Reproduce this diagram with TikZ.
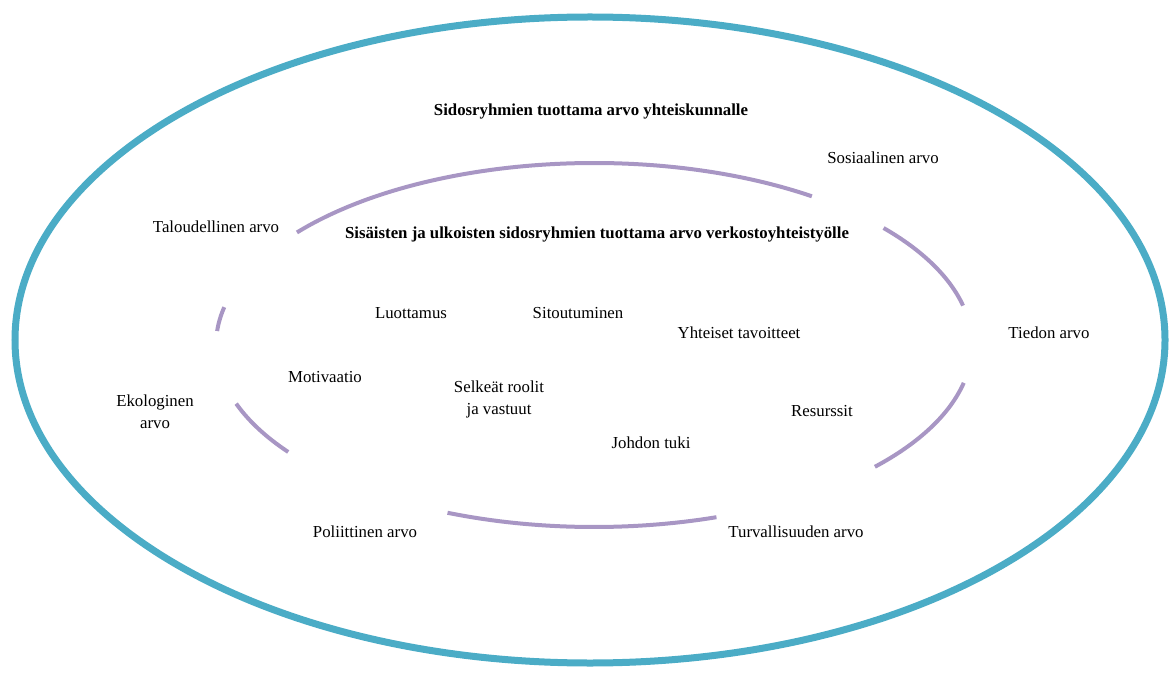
\documentclass[tikz,border=0pt]{standalone}
\usepackage{fontspec}
\setmainfont{Liberation Serif}
\definecolor{outerblue}{HTML}{4BACC6}
\definecolor{innerpurple}{HTML}{A896C4}
\begin{document}
\begin{tikzpicture}[x=1pt,y=1pt,
  lbl/.style={font=\fontsize{16.8}{22}\selectfont, inner sep=0pt, align=center, text=black},
  ttl/.style={lbl, font=\fontsize{16.8}{22}\selectfont\bfseries},
  outerring/.style={draw=outerblue, line width=7pt},
  innerring/.style={draw=innerpurple, line width=4pt}]
\useasboundingbox (0,0) rectangle (1169,673);
% outer ellipse
\coordinate (oc) at (590,333);
\draw[outerring] (oc) ellipse [x radius=575, y radius=323];
% inner broken ellipse
\coordinate (ic) at (594,328);
\foreach \a/\b in {141.8/54.8, 40/12.5, -12/-42, -71.1/-112.8, -144/-161.2, 168/175.6}{
  \draw[innerring] (ic) ++(\a:378 and 182) arc[start angle=\a, end angle=\b, x radius=378, y radius=182];
}
% titles
\node[ttl] (t1) at (591,562) {Sidosryhmien tuottama arvo yhteiskunnalle};
\node[ttl] (t2) at (597,439) {Sisäisten ja ulkoisten sidosryhmien tuottama arvo verkostoyhteistyölle};
% outer labels
\node[lbl] (sos) at (883,515) {Sosiaalinen arvo};
\node[lbl] (tal) at (216,446) {Taloudellinen arvo};
\node[lbl] (tie) at (1049,340) {Tiedon arvo};
\node[lbl] (eko) at (155,261) {Ekologinen\\arvo};
\node[lbl] (pol) at (365,141) {Poliittinen arvo};
\node[lbl] (tur) at (796,141) {Turvallisuuden arvo};
% inner labels
\node[lbl] (luo) at (411,360) {Luottamus};
\node[lbl] (sit) at (578,360) {Sitoutuminen};
\node[lbl] (yht) at (739,340) {Yhteiset tavoitteet};
\node[lbl] (mot) at (325,296) {Motivaatio};
\node[lbl] (sel) at (499,274) {Selkeät roolit\\ja vastuut};
\node[lbl] (res) at (822,262) {Resurssit};
\node[lbl] (joh) at (651,230) {Johdon tuki};
\end{tikzpicture}
\end{document}
